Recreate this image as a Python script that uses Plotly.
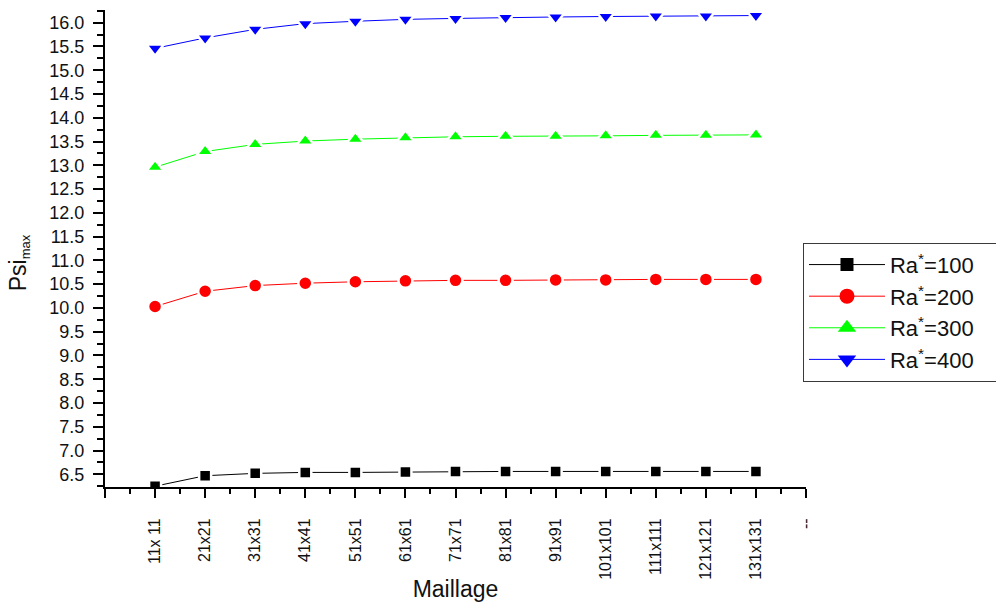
import plotly.graph_objects as go

# Mesh sizes tested in the grid-independence study
maillage = ["11x 11", "21x21", "31x31", "41x41", "51x51", "61x61", "71x71",
            "81x81", "91x91", "101x101", "111x111", "121x121", "131x131"]
x_pos = list(range(1, len(maillage) + 1))

# Maximum stream function for each Rayleigh number
psi_ra100 = [6.25, 6.47, 6.52, 6.54, 6.54, 6.55, 6.56, 6.56, 6.56, 6.56, 6.56, 6.56, 6.56]
psi_ra200 = [10.03, 10.35, 10.47, 10.52, 10.55, 10.57, 10.58, 10.58, 10.59, 10.59, 10.60, 10.60, 10.60]
psi_ra300 = [12.96, 13.29, 13.44, 13.51, 13.55, 13.58, 13.60, 13.61, 13.61, 13.62, 13.63, 13.63, 13.64]
psi_ra400 = [15.46, 15.68, 15.86, 15.98, 16.03, 16.07, 16.09, 16.11, 16.12, 16.13, 16.14, 16.14, 16.15]

# name, values, colour, symbol, marker size on the plot, marker size in the legend
series = [
    ("Ra<sup>*</sup>=100", psi_ra100, "#000000", "square", 12, 13),
    ("Ra<sup>*</sup>=200", psi_ra200, "#ff0000", "circle", 14, 15),
    ("Ra<sup>*</sup>=300", psi_ra300, "#00ff00", "triangle-up", 15, 16),
    ("Ra<sup>*</sup>=400", psi_ra400, "#0000ff", "triangle-down", 15, 16),
]

FONT = "Arial, Liberation Sans, Helvetica, sans-serif"
TXT = "#111111"
NBSP = "\u00a0"

fig = go.Figure()
for name, ys, color, symbol, size, lsize in series:
    # data curve: a white rim around each marker leaves a small gap in the line
    fig.add_trace(go.Scatter(
        x=x_pos, y=ys, name=name, mode="lines+markers", showlegend=False,
        line=dict(color=color, width=1),
        marker=dict(symbol=symbol, size=size, color=color,
                    line=dict(color="white", width=2.5)),
    ))
    # legend entry with a plain, slightly larger symbol; padded so the
    # legend box reaches the right edge of the figure
    fig.add_trace(go.Scatter(
        x=[None], y=[None], name=name + NBSP * 3, mode="lines+markers", showlegend=True,
        line=dict(color=color, width=1),
        marker=dict(symbol=symbol, size=lsize, color=color),
    ))

fig.update_layout(
    width=996, height=603,
    margin=dict(l=105, r=190, t=10, b=116, autoexpand=False),
    paper_bgcolor="white", plot_bgcolor="white",
    font=dict(family=FONT, color=TXT),
    showlegend=True,
    legend=dict(
        x=0.9957, y=0.512, xanchor="left", yanchor="top",
        bgcolor="white", bordercolor="#3a3a3a", borderwidth=1,
        font=dict(family=FONT, size=22, color=TXT),
        itemwidth=76, tracegroupgap=0,
    ),
    annotations=[dict(
        text="Psi<sub><span style='font-size:13px'>max</span></sub>", textangle=-90,
        xref="paper", yref="paper", x=-0.122, y=0.47,
        xanchor="center", yanchor="middle", showarrow=False,
        font=dict(size=23, family=FONT, color=TXT),
    )],
)

fig.update_xaxes(
    range=[0, 14],
    tickmode="array",
    tickvals=[0] + x_pos + [14],
    ticktext=[""] + maillage + ["--"],
    tickangle=-90,
    tickfont=dict(size=16, family=FONT, color=TXT),
    ticks="outside", ticklen=9, tickwidth=1.5, tickcolor="black",
    ticklabelstandoff=14,
    minor=dict(ticks="outside", ticklen=5, tickwidth=1.5, tickcolor="black",
               dtick=0.5, tick0=0),
    showline=True, linecolor="black", linewidth=2,
    showgrid=False, zeroline=False,
    title=dict(text="Maillage", font=dict(size=23, family=FONT, color=TXT),
               standoff=2),
)

fig.update_yaxes(
    range=[6.233, 16.267],
    tick0=0, dtick=0.5, tickformat=".1f",
    ticksuffix=NBSP,
    tickfont=dict(size=18, family=FONT, color=TXT),
    ticks="outside", ticklen=10, tickwidth=1.5, tickcolor="black",
    minor=dict(ticks="outside", ticklen=6, tickwidth=1.5, tickcolor="black",
               dtick=0.25, tick0=0),
    showline=True, linecolor="black", linewidth=2,
    showgrid=False, zeroline=False,
)

fig.write_html("out.html")
